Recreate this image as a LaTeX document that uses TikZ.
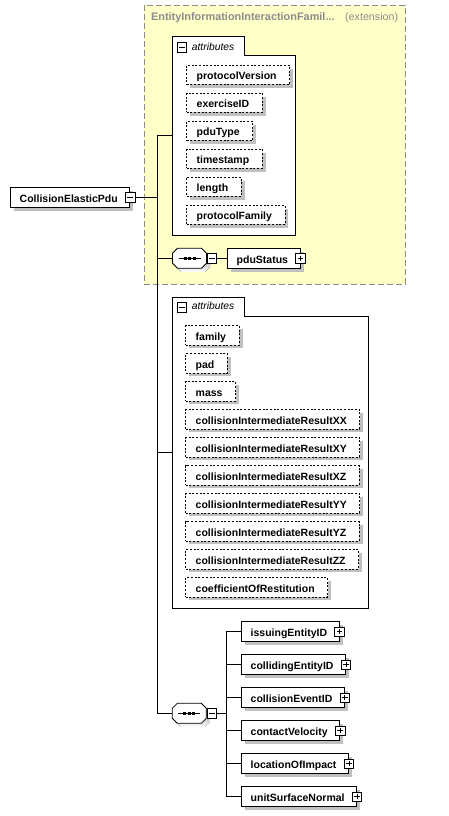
\documentclass[tikz,border=0pt]{standalone}
\usepackage{fontspec}
\setmainfont{Liberation Sans}
\usepackage{tikz}
\usetikzlibrary{positioning, shadows}
\definecolor{extfill}{HTML}{FFFFC8}
\definecolor{extline}{HTML}{8C8C8C}
\definecolor{shade}{HTML}{C0C0C0}
\tikzset{
  elem/.style = {draw, fill=white, anchor=west, minimum height=20pt,
    inner xsep=9pt, inner ysep=0pt, text height=9.6pt, text depth=0pt,
    font=\fontsize{10.5}{12}\selectfont\bfseries,
    execute at end node={\hspace*{3pt}},
    drop shadow={shadow xshift=3.5pt, shadow yshift=-3.5pt,
      fill=shade, opacity=1}},
  attr/.style = {elem, dash pattern=on 2pt off 1.7pt, minimum height=19.3pt,
    inner xsep=10pt, execute at end node={}},
  btn/.style = {draw, fill=white, minimum size=9.5pt, inner sep=0pt,
    line width=0.7pt},
  minus/.style = {btn, path picture={
    \draw ([xshift=2pt]path picture bounding box.west)
      -- ([xshift=-2pt]path picture bounding box.east);}},
  plus/.style = {btn, path picture={
    \draw ([xshift=2pt]path picture bounding box.west)
      -- ([xshift=-2pt]path picture bounding box.east);
    \draw ([yshift=-2pt]path picture bounding box.north)
      -- ([yshift=2pt]path picture bounding box.south);}},
  seq/.style = {minimum width=34pt, minimum height=20pt, inner sep=0pt},
  grp/.style = {draw, fill=white},
  tabtext/.style = {anchor=west, inner sep=0pt,
    font=\fontsize{10.3}{12}\selectfont\itshape}
}
% sequence symbol: octagon with shadow, line and three dots
\newcommand\seqsym[2]{%
  \node[seq] (#1) at (#2) {};
  \fill[shade] ([shift={(3.5,3.5)}]#1.center) ++(-17,-5) -- ++(5,-5)
    -- ++(24,0) -- ++(5,5) -- ++(0,10) -- ++(-5,5) -- ++(-24,0)
    -- ++(-5,-5) -- cycle;
  \draw[fill=white] (#1.center) ++(-17,-5) -- ++(5,-5) -- ++(24,0)
    -- ++(5,5) -- ++(0,10) -- ++(-5,5) -- ++(-24,0) -- ++(-5,-5) -- cycle;
  \draw (#1.center) ++(-11,0) -- ++(22,0);
  \foreach \d in {-4.5,0,4.5}
    \fill (#1.center) ++(\d-1.5,-1.5) rectangle ++(3,3);
}

\begin{document}
\begin{tikzpicture}[x=1pt, y=-1pt, line width=0.8pt]
\useasboundingbox (0,0) rectangle (449,816);

% extension base
\draw[extline, fill=extfill, line width=1pt, dash pattern=on 6pt off 3pt]
  (144.3,5.3) rectangle (405.3,284.3);
\node[anchor=west, inner sep=0pt, text=extline,
  font=\fontsize{10.9}{12}\selectfont\bfseries] (extT) at (150.7,18)
  {EntityInformationInteractionFamil...};
\node[anchor=east, inner sep=0pt, text=extline,
  font=\fontsize{10.7}{12}\selectfont] (extK) at (398.5,18) {(extension)};

% attribute groups
\draw[grp] (172.3,36) -- (244.3,36) -- (244.3,55.3) -- (295.3,55.3)
  -- (295.3,235.3) -- (172.3,235.3) -- cycle;
\node[minus] (attrAm) at (182,47.5) {};
\node[tabtext] (attrAt) at (191.5,46.5) {attributes};
\coordinate (attrA) at (172.3,135.7);

\draw[grp] (172.3,297.3) -- (244.3,297.3) -- (244.3,316) -- (368.7,316)
  -- (368.7,608.3) -- (172.3,608.3) -- cycle;
\node[minus] (attrBm) at (182,307.3) {};
\node[tabtext] (attrBt) at (191.5,306.3) {attributes};
\coordinate (attrB) at (172.3,452.8);

\foreach \n [count=\i from 0] in {protocolVersion, exerciseID, pduType,
  timestamp, length, protocolFamily}
  \node[attr] (a\i) at (186.3,74.7+28*\i) {\n};

\foreach \n [count=\i from 0] in {family, pad, mass,
  collisionIntermediateResultXX, collisionIntermediateResultXY,
  collisionIntermediateResultXZ, collisionIntermediateResultYY,
  collisionIntermediateResultYZ, collisionIntermediateResultZZ,
  coefficientOfRestitution}
  \node[attr] (b\i) at (185.3,335.3+28*\i) {\n};

% root
\node[elem] (cep) at (10.3,197.3) {CollisionElasticPdu};
\node[minus] (cepm) at (cep.east) {};

% sequences
\seqsym{seqA}{189.5,258.3}
\node[minus, anchor=west] (seqAm) at (seqA.east) {};
\node[elem] (status) at (227.3,258.3) {pduStatus};
\node[plus] (statusp) at (status.east) {};

\seqsym{seqB}{189.3,713.3}
\node[minus, anchor=west] (seqBm) at (seqB.east) {};
\coordinate (fork) at (226.3,713.3);

\foreach \n [count=\i from 0] in {issuingEntityID, collidingEntityID,
  collisionEventID, contactVelocity, locationOfImpact, unitSurfaceNormal}
{
  \node[elem] (c\i) at (241.3,631.7+33*\i) {\n};
  \node[plus] (p\i) at (c\i.east) {};
  \draw (fork |- c\i.west) -- (c\i.west);
}

% connectors
\coordinate (trunkT) at (157,135.7);
\coordinate (trunkB) at (157,713.3);
\draw (cepm.east) -- (cepm.east -| trunkT);
\draw (attrA) -- (trunkT) -- (trunkB) -- (seqB.west);
\draw (attrB) -- (attrB -| trunkT);
\draw (seqA.west) -- (seqA.west -| trunkT);
\draw (seqAm.east) -- (status.west);
\draw (seqBm.east) -- (fork);
\draw (fork |- c0.west) -- (fork |- c5.west);
\end{tikzpicture}
\end{document}
